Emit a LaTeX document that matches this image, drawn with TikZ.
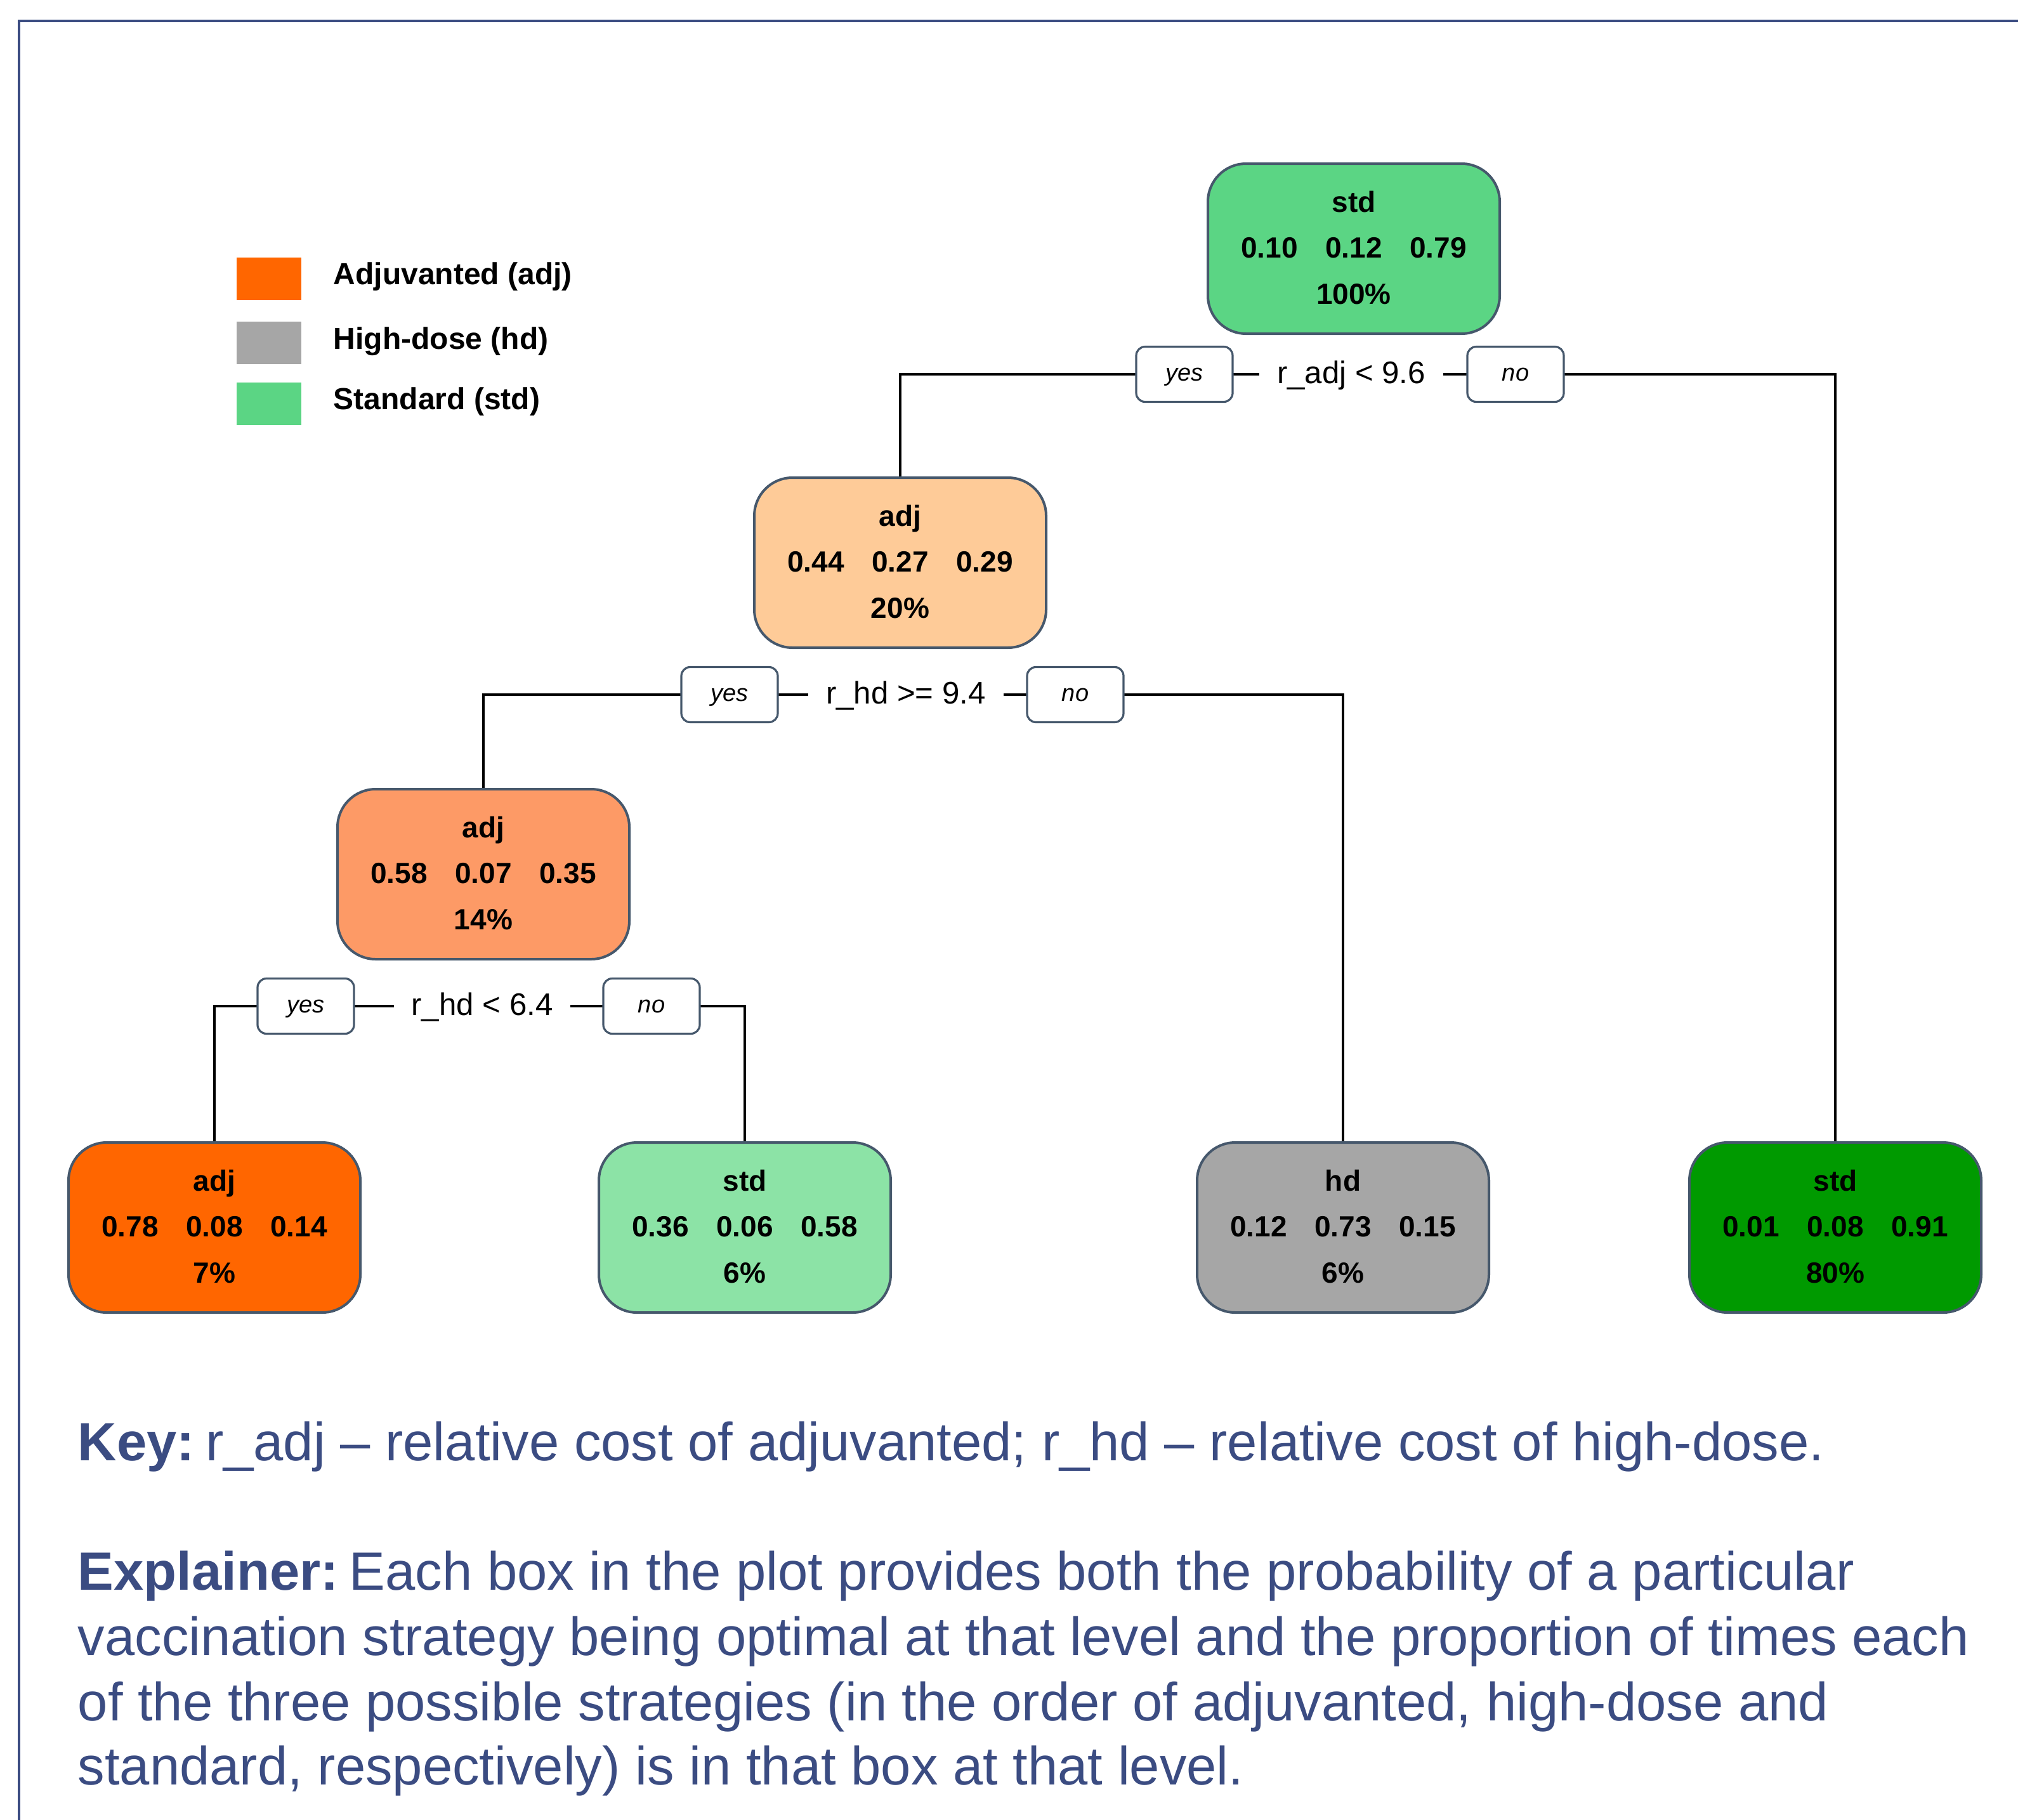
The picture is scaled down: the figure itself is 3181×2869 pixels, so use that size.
\documentclass[tikz,border=0pt]{standalone}
\usepackage{fontspec}
\setmainfont{Liberation Sans}
\definecolor{txtblue}{HTML}{3B4C82}
\definecolor{boxborder}{HTML}{46586C}
\definecolor{rootgreen}{HTML}{5BD584}
\definecolor{peach}{HTML}{FECB98}
\definecolor{midorange}{HTML}{FD9A66}
\definecolor{adjorange}{HTML}{FF6600}
\definecolor{lightgreen}{HTML}{8CE3A6}
\definecolor{hdgray}{HTML}{A6A6A6}
\definecolor{darkgreen}{HTML}{009A00}
\tikzset{
 treebox/.style={draw=boxborder, line width=1pt, rounded corners=15pt, minimum width=115pt, minimum height=67pt, inner sep=0pt},
 boxtxt/.style={font=\fontsize{11.5}{13}\selectfont\bfseries, inner sep=0pt, text=black},
 conn/.style={draw=black, line width=1pt},
 yn/.style={draw=boxborder, line width=0.8pt, fill=white, rounded corners=3.5pt, minimum width=38pt, minimum height=21.75pt, inner sep=0pt, text height=0.7em, text depth=0.18em, font=\fontsize{9.5}{11}\selectfont\itshape},
 cond/.style={fill=white, inner xsep=7pt, inner ysep=3pt, text height=0.72em, text depth=0.02em, font=\fontsize{12.3}{14}\selectfont},
 legsq/.style={minimum width=25.5pt, minimum height=16.75pt, inner sep=0pt},
 legtxt/.style={anchor=base west, inner sep=0pt, font=\fontsize{12}{14}\selectfont\bfseries},
 keytxt/.style={anchor=base west, inner sep=0pt, text=txtblue, font=\fontsize{21.25}{25}\selectfont},
}
\newcommand{\mybox}[9]{%
 \node[treebox, fill=#4] (#1) at (#2,#3) {};
 \node[boxtxt, anchor=base] (#1-lab) at ([yshift=14.5pt]#1.center) {#5};
 \node[boxtxt, anchor=base] (#1-a) at ([xshift=-33.25pt,yshift=-3.5pt]#1.center) {#6};
 \node[boxtxt, anchor=base] (#1-b) at ([yshift=-3.5pt]#1.center) {#7};
 \node[boxtxt, anchor=base] (#1-c) at ([xshift=33.25pt,yshift=-3.5pt]#1.center) {#8};
 \node[boxtxt, anchor=base] (#1-p) at ([yshift=-21.75pt]#1.center) {#9};
}
\begin{document}
\begin{tikzpicture}[x=0.25pt,y=-0.25pt]
\useasboundingbox (0,0) rectangle (3181,2869);
% frame
\draw[txtblue, line width=1.2pt] (30,2869) -- (30,33) -- (3181,33);
% legend
\node[legsq, fill=adjorange] (lg1) at (423.5,439) {};
\node[legsq, fill=hdgray] (lg2) at (423.5,540) {};
\node[legsq, fill=rootgreen] (lg3) at (423.5,636) {};
\node[legtxt] (lt1) at (525,448) {Adjuvanted (adj)};
\node[legtxt] (lt2) at (525,550) {High-dose (hd)};
\node[legtxt] (lt3) at (525,645) {Standard (std)};
% tree boxes
\mybox{root}{2134}{392}{rootgreen}{std}{0.10}{0.12}{0.79}{100\%}
\mybox{n2}{1419}{887}{peach}{adj}{0.44}{0.27}{0.29}{20\%}
\mybox{n3}{762}{1378}{midorange}{adj}{0.58}{0.07}{0.35}{14\%}
\mybox{l1}{338}{1935}{adjorange}{adj}{0.78}{0.08}{0.14}{7\%}
\mybox{l2}{1174}{1935}{lightgreen}{std}{0.36}{0.06}{0.58}{6\%}
\mybox{l3}{2117}{1935}{hdgray}{hd}{0.12}{0.73}{0.15}{6\%}
\mybox{l4}{2893}{1935}{darkgreen}{std}{0.01}{0.08}{0.91}{80\%}
% split coordinates
\coordinate (s1c) at (2130,590);
\coordinate (s2c) at (1428,1095);
\coordinate (s3c) at (760,1586);
% connectors
\draw[conn] (n2.north) |- (s1c) -| (l4.north);
\draw[conn] (n3.north) |- (s2c) -| (l3.north);
\draw[conn] (l1.north) |- (s3c) -| (l2.north);
% split labels
\node[cond] (s1) at (s1c) {r\_adj < 9.6};
\node[yn] (s1y) at (1867,590) {yes};
\node[yn] (s1n) at (2389,590) {no};
\node[cond] (s2) at (s2c) {r\_hd >= 9.4};
\node[yn] (s2y) at (1150,1095) {yes};
\node[yn] (s2n) at (1695,1095) {no};
\node[cond] (s3) at (s3c) {r\_hd < 6.4};
\node[yn] (s3y) at (482,1586) {yes};
\node[yn] (s3n) at (1027,1586) {no};
% key and explainer
\node[keytxt] (key) at (122,2302) {\textbf{Key:}\hspace{0.2em}r\_adj – relative cost of adjuvanted; r\_hd – relative cost of high-dose.};
\node[keytxt] (ex1) at (122,2506) {\textbf{Explainer:}\hspace{0.2em}Each box in the plot provides both the probability of a particular};
\node[keytxt] (ex2) at (122,2609) {vaccination strategy being optimal at that level and the proportion of times each};
\node[keytxt] (ex3) at (122,2712) {of the three possible strategies (in the order of adjuvanted, high-dose and};
\node[keytxt] (ex4) at (122,2813) {standard, respectively) is in that box at that level.};
\end{tikzpicture}
\end{document}
